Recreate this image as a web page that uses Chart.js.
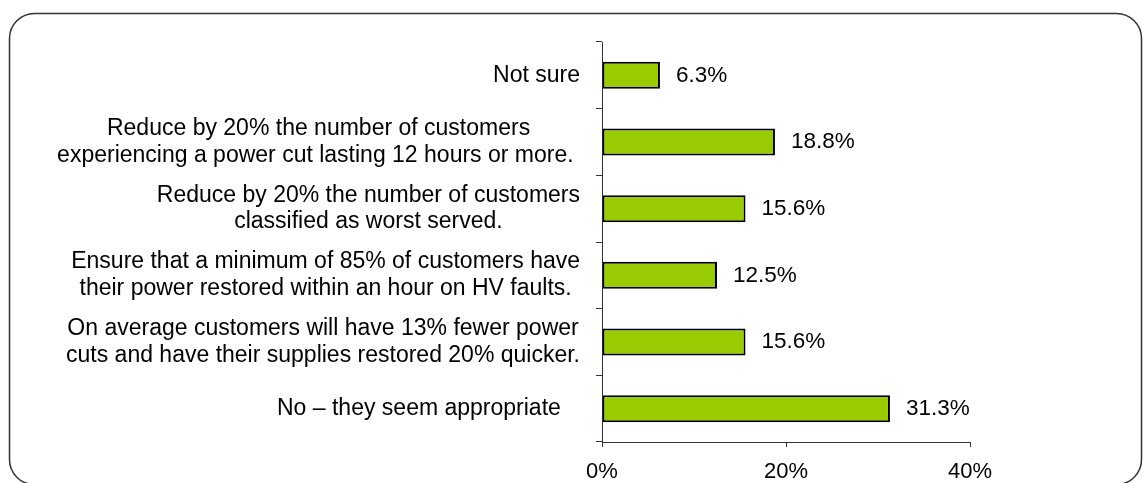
<!DOCTYPE html>
<html>
<head>
<meta charset="utf-8">
<script src="https://cdn.jsdelivr.net/npm/chart.js@4/dist/chart.umd.min.js"></script>
<style>
  html, body { margin: 0; padding: 0; background: #fff; }
  #wrap { width: 1143px; height: 483px; position: relative; }
</style>
</head>
<body>
<div id="wrap"><canvas id="c" width="1143" height="483"></canvas></div>
<script>
const categories = [
  ["Not sure"],
  ["Reduce by 20% the number of customers", "experiencing a power cut lasting 12 hours or more. "],
  ["Reduce by 20% the number of customers", "classified as worst served."],
  ["Ensure that a minimum of 85% of customers have", "their power restored within an hour on HV faults."],
  ["On average customers will have 13% fewer power", "cuts and have their supplies restored 20% quicker."],
  ["No \u2013 they seem appropriate   "]
];
const values = [6.3, 18.8, 15.6, 12.5, 15.6, 31.3];
const xTicks = [0, 20, 40];

const FAMILY = '"Liberation Sans", Arial, sans-serif';
const CAT_FONT = '23px ' + FAMILY;
const VAL_FONT = '22.5px ' + FAMILY;
const LINE_H = 26.5;

const framePlugin = {
  id: 'frame',
  beforeDraw(chart) {
    const ctx = chart.ctx;
    ctx.save();
    ctx.fillStyle = '#fff';
    ctx.fillRect(0, 0, chart.width, chart.height);
    ctx.strokeStyle = '#333';
    ctx.lineWidth = 1.5;
    ctx.beginPath();
    ctx.roundRect(9.5, 13.5, 1132, 471, 25);
    ctx.stroke();
    ctx.restore();
  }
};

const labelPlugin = {
  id: 'labels',
  afterDraw(chart) {
    const ctx = chart.ctx;
    const ys = chart.scales.y;
    ctx.save();
    ctx.fillStyle = '#000';
    ctx.textBaseline = 'middle';
    ctx.font = CAT_FONT;
    const right = ys.right - 22;
    categories.forEach((lines, i) => {
      const cy = ys.getPixelForValue(i);
      const w = Math.max(...lines.map(l => ctx.measureText(l).width));
      const cx = right - w / 2;
      ctx.textAlign = 'center';
      lines.forEach((l, j) => {
        ctx.fillText(l, cx, cy + (j - (lines.length - 1) / 2) * LINE_H);
      });
    });
    ctx.font = VAL_FONT;
    const meta = chart.getDatasetMeta(0);
    ctx.textAlign = 'left';
    meta.data.forEach((bar, i) => {
      ctx.fillText(values[i].toFixed(1) + '%', bar.x + 16, bar.y);
    });
    ctx.restore();
  }
};

new Chart(document.getElementById('c'), {
  type: 'bar',
  data: {
    labels: categories,
    datasets: [{
      data: values,
      backgroundColor: '#99CC00',
      borderColor: '#000',
      borderWidth: 2,
      borderSkipped: false,
      barPercentage: 0.405,
      categoryPercentage: 1.0
    }]
  },
  options: {
    indexAxis: 'y',
    responsive: false,
    animation: false,
    devicePixelRatio: 1,
    layout: { padding: { top: 42, right: 173, bottom: 0, left: 0 } },
    plugins: { legend: { display: false }, tooltip: { enabled: false } },
    scales: {
      x: {
        min: 0, max: 40,
        afterBuildTicks(scale) { scale.ticks = xTicks.map(v => ({ value: v })); },
        afterFit(scale) { scale.height = 41; },
        ticks: {
          callback: v => v + '%',
          color: '#000',
          font: { family: FAMILY, size: 22 },
          padding: 12,
          maxRotation: 0
        },
        grid: { drawOnChartArea: false, drawTicks: true, tickLength: 5, color: '#333', lineWidth: 1 },
        border: { display: true, color: '#333', width: 1 }
      },
      y: {
        afterFit(scale) { scale.width = 602; },
        ticks: { color: 'rgba(0,0,0,0)', font: { size: 22 } },
        grid: { drawOnChartArea: false, drawTicks: true, tickLength: 6, offset: true, color: '#333', lineWidth: 1 },
        border: { display: true, color: '#333', width: 1 }
      }
    }
  },
  plugins: [framePlugin, labelPlugin]
});
</script>
</body>
</html>
